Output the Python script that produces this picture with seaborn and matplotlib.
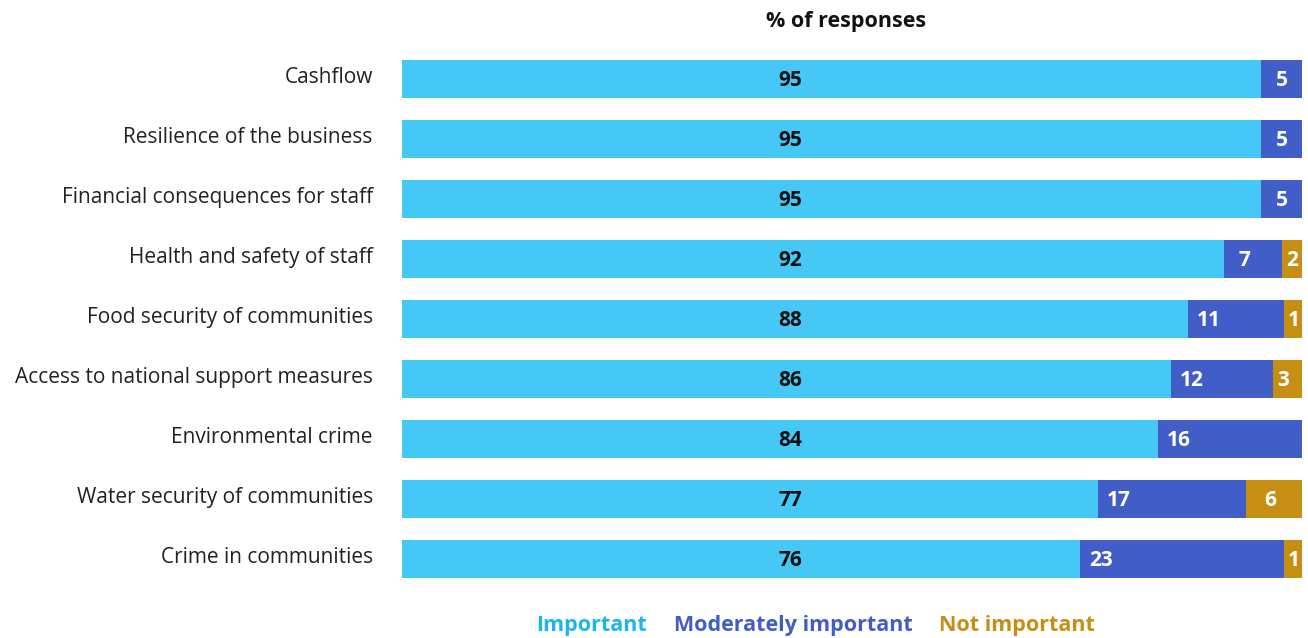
import matplotlib
matplotlib.use("Agg")
import matplotlib.pyplot as plt
from matplotlib.transforms import ScaledTranslation
import seaborn as sns
import pandas as pd
import numpy as np

categories = ["Cashflow", "Resilience of the business", "Financial consequences for staff",
              "Health and safety of staff", "Food security of communities",
              "Access to national support measures", "Environmental crime",
              "Water security of communities", "Crime in communities"]
# displayed (rounded) labels
important_lbl = [95, 95, 95, 92, 88, 86, 84, 77, 76]
moderately_lbl = [5, 5, 5, 7, 11, 12, 16, 17, 23]
not_important_lbl = [0, 0, 0, 2, 1, 3, 0, 6, 1]
# segment widths (normalized to 100%)
important = [95.4, 95.4, 95.4, 91.3, 87.3, 85.4, 84.0, 77.3, 75.3]
moderately = [4.6, 4.6, 4.6, 6.5, 10.7, 11.4, 16.0, 16.5, 22.7]
not_important = [0, 0, 0, 2.2, 2.0, 3.2, 0, 6.2, 2.0]
series_names = ["Important", "Moderately important", "Not important"]
colors = ["#45C8F5", "#415DC8", "#C68F14"]
legend_colors = ["#1AB4EE", "#415DC8", "#C68F14"]

sns.set_theme(style="white")
plt.rcParams["font.family"] = ["Open Sans", "DejaVu Sans"]

df = pd.DataFrame({"cat": categories, "imp": important, "mod": moderately, "not": not_important})
df["c1"] = df["imp"]
df["c2"] = df["imp"] + df["mod"]
df["c3"] = df["c2"] + df["not"]

fig = plt.figure(figsize=(13.08, 6.38), dpi=100)
ax = fig.add_axes([402 / 1308, 0.0768, 902 / 1308, 0.8464])

for col, c in zip(["c3", "c2", "c1"], colors[::-1]):
    sns.barplot(data=df, x=col, y="cat", orient="h", color=c, width=0.63,
                saturation=1, ax=ax, order=categories, linewidth=0, edgecolor="none")

ax.set_xlim(0, 100.2)
ax.set_ylim(8.5, -0.5)
ax.set_xlabel("")
ax.set_ylabel("")
ax.set_xticks([])
ax.tick_params(axis="y", length=0, pad=21, labelsize=15, labelcolor="#222222")
for lbl in ax.get_yticklabels():
    lbl.set_transform(lbl.get_transform() + ScaledTranslation(0, 4 / 100, fig.dpi_scale_trans))
for s in ax.spines.values():
    s.set_visible(False)

for i in range(len(categories)):
    imp, mod, nt = important[i], moderately[i], not_important[i]
    ax.text(43.1, i + 0.02, str(important_lbl[i]), ha="center", va="center", fontsize=15,
            fontweight="bold", color="#111111")
    if mod > 0:
        ax.text(imp + min(mod / 2, 2.3), i + 0.02, str(moderately_lbl[i]), ha="center",
                va="center", fontsize=15, fontweight="bold", color="white")
    if nt > 0:
        off = 1.1 if nt < 4 else 2.6
        ax.text(imp + mod + off, i + 0.02, str(not_important_lbl[i]), ha="center",
                va="center", fontsize=15, fontweight="bold", color="white")

fig.text(846 / 1308, 1 - 22 / 638, "% of responses", ha="center", va="center",
         fontsize=15.5, fontweight="bold", color="#111111")

for name, c, x in zip(series_names, legend_colors, [591, 793, 1017]):
    fig.text(x / 1308, 1 - 625 / 638, name, ha="center", va="center", fontsize=15.5,
             fontweight="bold", color=c)

fig.savefig("out.png", dpi=100)
